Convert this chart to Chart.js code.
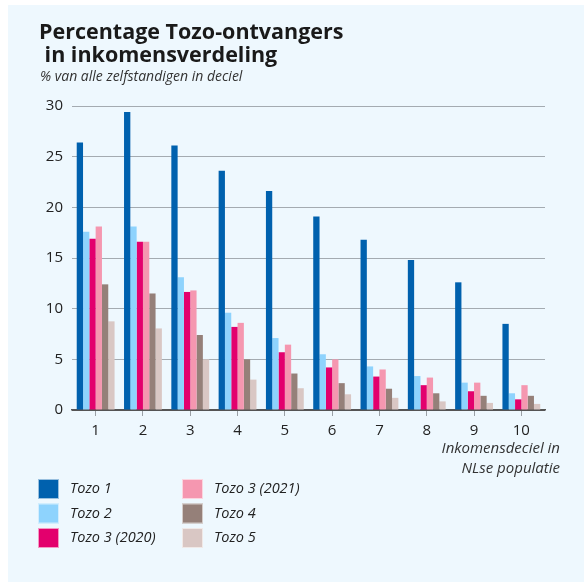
<!DOCTYPE html>
<html>
<head>
<meta charset="utf-8">
<script src="https://cdn.jsdelivr.net/npm/chart.js@4.4.1/dist/chart.umd.min.js"></script>
<style>
  html, body { margin: 0; padding: 0; background: #ffffff; }
  #wrap { position: relative; width: 584px; height: 582px; }
  #panel { position: absolute; left: 8px; top: 5px; right: 0; bottom: 0; background: #eef8fe; }
  canvas { position: absolute; left: 0; top: 0; }
</style>
</head>
<body>
<div id="wrap">
  <div id="panel"></div>
  <canvas id="chart" width="584" height="582"></canvas>
</div>
<script>
// Inkomensdecielen
const deciles = ['1', '2', '3', '4', '5', '6', '7', '8', '9', '10'];

// % van alle zelfstandigen in deciel
const tozo1     = [26.4, 29.4, 26.1, 23.6, 21.6, 19.1, 16.8, 14.8, 12.6, 8.5];
const tozo2     = [17.6, 18.1, 13.1, 9.6, 7.1, 5.5, 4.3, 3.35, 2.7, 1.65];
const tozo3_20  = [16.9, 16.6, 11.65, 8.2, 5.7, 4.2, 3.3, 2.45, 1.85, 1.05];
const tozo3_21  = [18.1, 16.6, 11.8, 8.6, 6.45, 5.0, 4.0, 3.2, 2.7, 2.45];
const tozo4     = [12.4, 11.5, 7.4, 5.0, 3.6, 2.65, 2.1, 1.65, 1.4, 1.4];
const tozo5     = [8.75, 8.05, 5.0, 3.0, 2.15, 1.55, 1.2, 0.85, 0.7, 0.6];

const yTicks = [0, 5, 10, 15, 20, 25, 30];

const seriesNames = ['Tozo 1', 'Tozo 2', 'Tozo 3 (2020)', 'Tozo 3 (2021)', 'Tozo 4', 'Tozo 5'];
const seriesColors = ['#0061ae', '#8ed3fd', '#e3006d', '#f597b0', '#958079', '#d9c7c4'];
const seriesData = [tozo1, tozo2, tozo3_20, tozo3_21, tozo4, tozo5];

const FONT = "'Open Sans', 'Noto Sans', sans-serif";

const datasets = seriesNames.map((name, i) => ({
  label: name,
  data: seriesData[i],
  backgroundColor: seriesColors[i],
  borderWidth: 0,
  categoryPercentage: 0.8,
  barPercentage: 1.0
}));

// titles, axis caption and two-column legend
const decor = {
  id: 'decor',
  afterDraw(chart) {
    const ctx = chart.ctx;
    ctx.save();
    ctx.fillStyle = '#1a1a1a';
    ctx.textAlign = 'left';
    ctx.textBaseline = 'alphabetic';
    ctx.font = `bold 21.5px ${FONT}`;
    ctx.fillText('Percentage Tozo-ontvangers', 39, 39);
    ctx.fillText(' in inkomensverdeling', 39, 62);
    ctx.font = `italic 14px ${FONT}`;
    ctx.fillStyle = '#333333';
    ctx.fillText('% van alle zelfstandigen in deciel', 40, 81);

    ctx.textAlign = 'right';
    ctx.font = `italic 15px ${FONT}`;
    ctx.fillText('Inkomensdeciel in', 560, 453);
    ctx.fillText('NLse populatie', 560, 473);

    // legend, column-major
    ctx.textAlign = 'left';
    ctx.textBaseline = 'middle';
    ctx.font = `italic 14.5px ${FONT}`;
    chart.data.datasets.forEach((ds, i) => {
      const col = Math.floor(i / 3);
      const row = i % 3;
      const x = col === 0 ? 38 : 182;
      const y = 489 + row * 24.5;
      ctx.fillStyle = ds.backgroundColor;
      ctx.fillRect(x, y - 10, 21, 20);
      ctx.strokeStyle = 'rgba(255,255,255,0.6)';
      ctx.lineWidth = 1;
      ctx.strokeRect(x + 0.5, y - 9.5, 20, 19);
      ctx.fillStyle = '#222222';
      ctx.fillText(ds.label, x + 32, y);
    });
    ctx.restore();
  }
};

new Chart(document.getElementById('chart'), {
  type: 'bar',
  data: { labels: deciles, datasets },
  plugins: [decor],
  options: {
    responsive: false,
    animation: false,
    layout: { padding: { top: 106, right: 39, bottom: 142, left: 0 } },
    plugins: {
      legend: { display: false },
      tooltip: { enabled: false }
    },
    scales: {
      x: {
        grid: { drawOnChartArea: false, drawTicks: true, tickLength: 6, color: '#9aa0a6', offset: false },
        border: { display: true, color: '#555555', width: 1.5 },
        ticks: { color: '#222222', font: { family: FONT, size: 15 }, padding: 6 },
        afterFit(scale) { scale.height = 30; }
      },
      y: {
        min: 0,
        max: 30,
        afterBuildTicks(scale) { scale.ticks = yTicks.map(v => ({ value: v })); },
        grid: {
          drawTicks: false,
          color: ctx => ctx.tick && ctx.tick.value === 0 ? '#555555' : '#a4abb1',
          lineWidth: 1
        },
        border: { display: false },
        ticks: { color: '#222222', font: { family: FONT, size: 15 }, padding: 9 },
        afterFit(scale) { scale.width = 72; }
      }
    }
  }
});
</script>
</body>
</html>
